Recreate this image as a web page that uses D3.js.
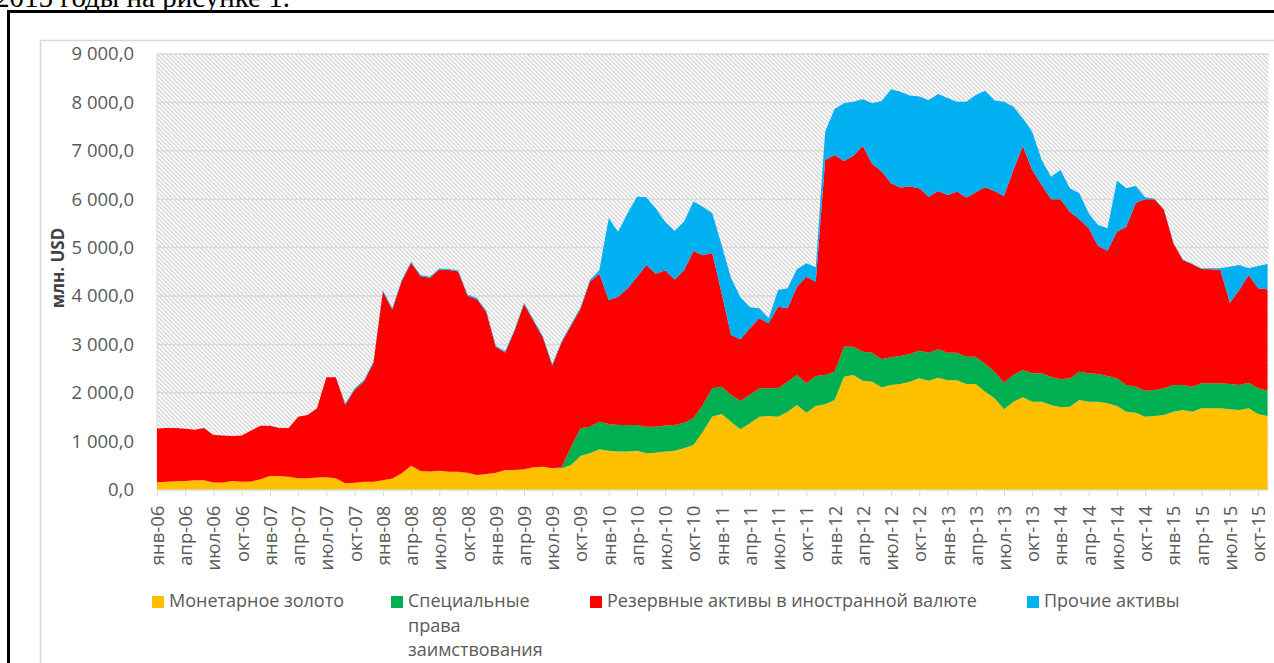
<!DOCTYPE html>
<html>
<head>
<meta charset="utf-8">
<script src="https://cdn.jsdelivr.net/npm/d3@7"></script>
<style>
body { margin: 0; background: #fff; }
svg { display: block; font-family: "Open Sans", sans-serif; }
</style>
</head>
<body>
<svg id="chart" width="1274" height="663"></svg>
<script>
// month categories, Jan 2006 .. Nov 2015
var monthNames = ["янв","фев","мар","апр","май","июн","июл","авг","сен","окт","ноя","дек"];
var months = [];
for (var yr = 2006; yr <= 2015; yr++) {
	for (var m = 0; m < 12; m++) months.push(monthNames[m] + "-" + String(yr).slice(2));
}
months = months.slice(0, 119);

// series, млн. USD
var gold = [150,160,170,180,195,195,145,145,180,160,
	165,215,280,280,268,235,235,250,255,235,
	130,143,160,160,195,230,336,494,383,375,
	390,370,370,350,302,323,350,405,405,420,
	460,474,440,440,508,694,749,832,805,785,
	785,805,749,763,785,805,853,921,1197,1510,
	1562,1404,1246,1370,1507,1521,1507,1611,1748,1590,
	1727,1762,1851,2333,2367,2250,2230,2113,2161,2182,
	2230,2300,2250,2313,2260,2260,2182,2182,2023,1886,
	1659,1817,1906,1817,1817,1748,1700,1714,1851,1817,
	1817,1783,1727,1610,1590,1507,1521,1541,1610,1645,
	1610,1679,1679,1679,1659,1645,1679,1562,1521];

var sdr = [0,0,0,0,0,0,0,0,0,0,
	0,0,0,0,0,0,0,0,0,0,
	0,0,0,0,0,0,0,0,0,0,
	0,0,0,0,0,0,0,0,0,0,
	0,0,0,20,379,572,552,572,551,550,
	550,530,552,538,537,530,530,552,551,582,
	565,551,592,585,585,571,585,619,620,606,
	620,606,586,621,587,600,600,579,572,579,
	572,571,580,586,570,570,565,565,572,551,
	550,551,565,585,585,585,578,585,586,585,
	571,564,572,551,537,537,537,551,551,516,
	517,517,517,517,523,516,530,530,523];

var reserves = [1110,1115,1105,1075,1040,1080,985,975,930,960,
	1055,1105,1040,995,1007,1270,1305,1430,2065,2085,
	1625,1922,2080,2455,3900,3490,3969,4191,4027,4000,
	4155,4165,4135,3655,3633,3342,2595,2430,2880,3415,
	3030,2671,2125,2585,2503,2469,2999,3056,2561,2648,
	2820,3060,3339,3159,3208,3005,3147,3457,3092,2798,
	1928,1239,1267,1377,1447,1343,1688,1515,1825,2203,
	1949,4442,4476,3835,3946,4249,3897,3878,3596,3479,
	3458,3355,3223,3271,3258,3327,3286,3396,3651,3733,
	3857,4235,4628,4201,3891,3664,3719,3443,3147,2996,
	2645,2590,3030,3271,3801,3953,3939,3685,2927,2583,
	2527,2362,2355,2341,1680,1963,2225,2067,2094];

var other = [0,0,0,0,0,0,0,0,0,0,
	0,0,0,0,0,0,0,0,0,0,
	25,25,25,25,25,25,25,25,25,25,
	25,25,25,25,25,25,25,25,25,25,
	25,25,25,25,25,25,30,70,1689,1347,
	1555,1657,1400,1350,1005,1010,1005,1020,1005,820,
	999,1171,867,434,206,104,344,413,358,276,
	296,590,950,1192,1116,965,1254,1459,1941,1982,
	1880,1894,1998,2005,2004,1859,1983,2011,1997,1867,
	1949,1309,572,792,517,469,606,483,537,310,
	434,461,1054,793,345,41,10,10,10,10,
	10,10,20,35,744,517,138,461,523];

var seriesKeys = ["gold", "sdr", "reserves", "other"];
var seriesNames = ["Монетарное золото", "Специальные права заимствования",
	"Резервные активы в иностранной валюте", "Прочие активы"];
var seriesColors = ["#ffc000", "#00b050", "#ff0000", "#00b0f0"];
var yTicks = [0,1000,2000,3000,4000,5000,6000,7000,8000,9000];

var rows = months.map(function(mo, i) {
	return {month: mo, gold: gold[i], sdr: sdr[i], reserves: reserves[i], other: other[i]};
});

var svg = d3.select("#chart");

var plotLeft = 157, plotRight = 1267.5, plotTop = 54, plotBottom = 489.6;

var x = d3.scalePoint()
	.domain(months)
	.range([plotLeft, plotRight]);

var y = d3.scaleLinear()
	.domain([0, 9000])
	.range([plotBottom, plotTop]);

var color = d3.scaleOrdinal()
	.domain(seriesKeys)
	.range(seriesColors);

// hatch for the plot area
var defs = svg.append("defs");
var hatch = defs.append("pattern")
	.attr("id", "hatch")
	.attr("patternUnits", "userSpaceOnUse")
	.attr("width", 4.3)
	.attr("height", 4.3);
hatch.append("rect").attr("width", 4.3).attr("height", 4.3).attr("fill", "#fff");
hatch.append("path")
	.attr("d", "M-1,-1L5.3,5.3M-1,3.3L1,5.3M3.3,-1L5.3,1")
	.attr("stroke", "#cdcdcd")
	.attr("stroke-width", 1.15);

// document text line on top, cut by the frame
svg.append("text")
	.attr("x", -5)
	.attr("y", 7)
	.style("font-family", "'Liberation Serif', serif")
	.style("font-size", "29px")
	.attr("fill", "#000")
	.text("2015 годы на рисунке 1.");

svg.append("rect").attr("x", 0).attr("y", 11).attr("width", 1274).attr("height", 663).attr("fill", "#fff");

// document frame
svg.append("line").attr("x1", 7).attr("x2", 1274).attr("y1", 11.5).attr("y2", 11.5)
	.attr("stroke", "#000").attr("stroke-width", 3);
svg.append("line").attr("x1", 8.5).attr("x2", 8.5).attr("y1", 10).attr("y2", 663)
	.attr("stroke", "#000").attr("stroke-width", 3);

// excel chart area border
svg.append("path")
	.attr("d", "M40.5,663V40.5H1274")
	.attr("fill", "none")
	.attr("stroke", "#d9d9d9")
	.attr("stroke-width", 1.5);

// plot area
svg.append("rect")
	.attr("x", plotLeft)
	.attr("y", plotTop)
	.attr("width", plotRight - plotLeft + 1)
	.attr("height", plotBottom - plotTop)
	.attr("fill", "url(#hatch)");

// gridlines
svg.append("g")
	.attr("class", "grid")
	.selectAll("line")
	.data(yTicks)
	.enter()
	.append("line")
	.attr("x1", plotLeft)
	.attr("x2", plotRight + 1)
	.attr("y1", function(d) { return y(d); })
	.attr("y2", function(d) { return y(d); })
	.attr("stroke", "#d9d9d9")
	.attr("stroke-width", 1.5);

svg.append("line")
	.attr("x1", plotLeft).attr("x2", plotLeft)
	.attr("y1", plotTop).attr("y2", plotBottom)
	.attr("stroke", "#d9d9d9").attr("stroke-width", 1);

// stacked areas
var stack = d3.stack().keys(seriesKeys);
var layers = stack(rows);

var area = d3.area()
	.x(function(d) { return x(d.data.month); })
	.y0(function(d) { return y(d[0]); })
	.y1(function(d) { return y(d[1]); });

svg.append("g")
	.selectAll("path")
	.data(layers)
	.enter()
	.append("path")
	.attr("d", area)
	.attr("fill", function(d) { return color(d.key); });

// y axis
var ru = d3.formatLocale({decimal: ",", thousands: "\u00a0", grouping: [3], currency: ["", ""]});

var yAxis = d3.axisLeft(y)
	.tickValues(yTicks)
	.tickSize(0)
	.tickPadding(23)
	.tickFormat(ru.format(",.1f"));

var yg = svg.append("g")
	.attr("transform", "translate(" + plotLeft + ",0)")
	.call(yAxis);
yg.select(".domain").remove();
yg.selectAll("text")
	.attr("fill", "#595959")
	.style("font-size", "18.5px")
	.style("font-family", "'Open Sans', sans-serif");

svg.append("text")
	.attr("transform", "translate(58,268) rotate(-90)")
	.attr("text-anchor", "middle")
	.attr("dy", "0.35em")
	.attr("fill", "#404040")
	.style("font-size", "17px")
	.style("font-weight", "bold")
	.text("млн. USD");

// x axis
var xAxis = d3.axisBottom(x)
	.tickValues(months.filter(function(d, i) { return i % 3 === 0; }))
	.tickSize(7)
	.tickPadding(0);

var xg = svg.append("g")
	.attr("transform", "translate(0," + plotBottom + ")")
	.call(xAxis);
xg.select(".domain")
	.attr("stroke", "#d9d9d9")
	.attr("d", "M" + plotLeft + ",0.5H" + (plotRight + 1));
xg.selectAll(".tick line").attr("stroke", "#d9d9d9");
xg.selectAll("text")
	.attr("transform", "translate(0,16) rotate(-90)")
	.attr("text-anchor", "end")
	.attr("x", 0)
	.attr("y", 0)
	.attr("dy", "0.35em")
	.attr("fill", "#595959")
	.style("font-size", "18.5px")
	.style("font-family", "'Open Sans', sans-serif");

// legend
var legendX = [152, 391, 590, 1027];
var legend = svg.append("g").attr("class", "legend");
seriesKeys.forEach(function(k, i) {
	var g = legend.append("g").attr("transform", "translate(" + legendX[i] + ",0)");
	g.append("rect")
		.attr("x", 0).attr("y", 596)
		.attr("width", 12).attr("height", 12)
		.attr("fill", seriesColors[i]);
	var t = g.append("text")
		.attr("x", 17)
		.attr("y", 607)
		.attr("fill", "#595959")
		.style("font-size", "18px");
	if (k === "sdr") {
		var parts = ["Специальные", "права", "заимствования"];
		parts.forEach(function(p, j) {
			t.append("tspan").attr("x", 17).attr("dy", j === 0 ? 0 : 24.5).text(p);
		});
	} else {
		t.text(seriesNames[i]);
	}
});
</script>
</body>
</html>
